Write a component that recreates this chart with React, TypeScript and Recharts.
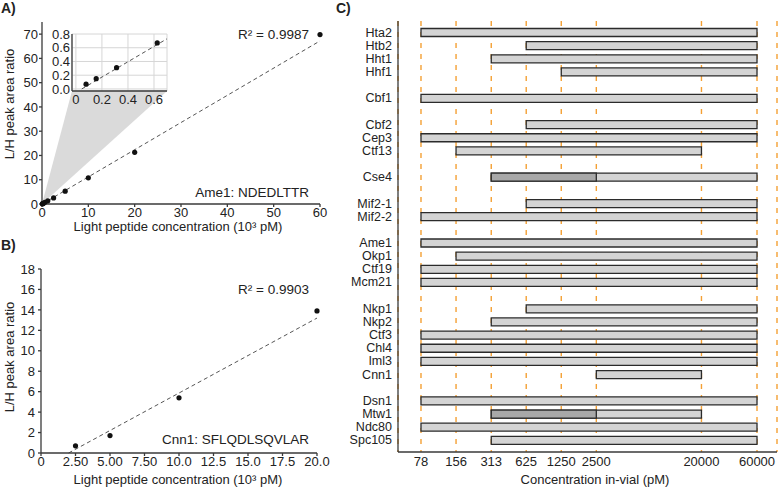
import React from "react";
import {
  ComposedChart,
  BarChart,
  Bar,
  Scatter,
  Line,
  XAxis,
  YAxis,
  CartesianGrid,
  ReferenceArea,
} from "recharts";

const FONT = '"Liberation Sans", Arial, Helvetica, sans-serif';
const INK = "#222";
const FRAME = "#3a3a3a";

// A) Ame1: NDEDLTTR calibration (10^3 pM vs L/H ratio)
const ameConc = [0.078, 0.156, 0.3125, 0.625, 1.25, 2.5, 5, 10, 20, 60];
const ameRatio = [0.07, 0.15, 0.31, 0.67, 1.3, 2.5, 5.3, 10.8, 21.3, 69.8];
const ameFitX = [0.045, 60];
const ameFitY = [0, 67.2];
const ameInsetFitX = [0.045, 0.7];
const ameInsetFitY = [0, 0.73];
const ameTicksX = [0, 10, 20, 30, 40, 50, 60];
const ameTicksY = [0, 10, 20, 30, 40, 50, 60, 70];
const insetTicksX = [0, 0.2, 0.4, 0.6];
const insetTicksY = [0, 0.2, 0.4, 0.6, 0.8];

// B) Cnn1: SFLQDLSQVLAR calibration
const cnnConc = [2.5, 5, 10, 20];
const cnnRatio = [0.7, 1.7, 5.4, 13.9];
const cnnFitX = [2.0, 20];
const cnnFitY = [0, 13.2];
const cnnTicksX = [0, 2.5, 5, 7.5, 10, 12.5, 15, 17.5, 20];
const cnnTicksY = [0, 2, 4, 6, 8, 10, 12, 14, 16, 18];

// C) linear range per peptide, concentration in-vial (pM)
const proteins = [
  "Hta2", "Htb2", "Hht1", "Hhf1", "",
  "Cbf1", "",
  "Cbf2", "Cep3", "Ctf13", "",
  "Cse4", "",
  "Mif2-1", "Mif2-2", "",
  "Ame1", "Okp1", "Ctf19", "Mcm21", "",
  "Nkp1", "Nkp2", "Ctf3", "Chl4", "Iml3", "Cnn1", "",
  "Dsn1", "Mtw1", "Ndc80", "Spc105",
];
const lowerLimit = [
  78, 625, 313, 1250, null,
  78, null,
  625, 78, 156, null,
  313, null,
  625, 78, null,
  78, 156, 78, 78, null,
  625, 313, 78, 78, 78, 2500, null,
  78, 313, 78, 313,
];
const upperLimit = [
  60000, 60000, 60000, 60000, null,
  60000, null,
  60000, 60000, 20000, null,
  60000, null,
  60000, 60000, null,
  60000, 60000, 60000, 60000, null,
  60000, 60000, 60000, 60000, 60000, 20000, null,
  60000, 20000, 60000, 60000,
];
const subLower: Record<string, number> = { Cse4: 313, Mtw1: 313 };
const subUpper: Record<string, number> = { Cse4: 2500, Mtw1: 2500 };
const concTicks = [78, 156, 313, 625, 1250, 2500, 20000, 60000];

const ameData = ameConc.map((x, i) => ({ x, y: ameRatio[i] }));
const ameInsetData = ameData.filter((d) => d.x < 0.7);
const ameFit = ameFitX.map((x, i) => ({ x, y: ameFitY[i] }));
const ameInsetFit = ameInsetFitX.map((x, i) => ({ x, y: ameInsetFitY[i] }));
const cnnData = cnnConc.map((x, i) => ({ x, y: cnnRatio[i] }));
const cnnFit = cnnFitX.map((x, i) => ({ x, y: cnnFitY[i] }));

const rows = proteins.map((name, i) => ({
  key: i,
  name,
  range: lowerLimit[i] != null ? [lowerLimit[i], upperLimit[i]] : null,
  sub: subLower[name] != null ? [subLower[name], subUpper[name]] : null,
}));

const tickStyle = { fontSize: 13, fill: INK, fontFamily: FONT };
const rowTickStyle = { fontSize: 12.5, fill: INK, fontFamily: FONT };
const frameLine = { stroke: FRAME, strokeWidth: 1.3 };

const dot = (p: any) => <circle cx={p.cx} cy={p.cy} r={2.6} fill="#111" />;

// grey fan linking the origin to the inset
const fanLeftX = 6.47;
const fanRightX = 27;
const fanTopY = 46.6;
const insetFan = (p: any) => {
  const { x, y, width, height } = p;
  const apex = x + width * (fanLeftX / fanRightX);
  return (
    <polygon
      points={`${x},${y + height} ${apex},${y} ${x + width},${y}`}
      fill="#dadada"
    />
  );
};

const txt = (style: React.CSSProperties, children: React.ReactNode) => (
  <div
    style={{
      position: "absolute",
      fontSize: 13,
      lineHeight: "16px",
      whiteSpace: "nowrap",
      color: INK,
      ...style,
    }}
  >
    {children}
  </div>
);

const vlabel = (cx: number, cy: number, text: string) =>
  txt(
    {
      left: cx - 100,
      top: cy - 8,
      width: 200,
      textAlign: "center",
      transform: "rotate(-90deg)",
    },
    text
  );

const fmtB = (v: number) => (v === 0 ? "0" : v < 10 ? v.toFixed(2) : v.toFixed(1));

export default function App() {
  return (
    <div
      style={{
        position: "absolute",
        left: 0,
        top: 0,
        width: 779,
        height: 488,
        background: "#fff",
        fontFamily: FONT,
        overflow: "hidden",
      }}
    >
      {/* A) main */}
      <div style={{ position: "absolute", left: 0, top: 0 }}>
        <ComposedChart width={340} height={232} margin={{ top: 22, right: 20, left: 0, bottom: 0 }}>
          <ReferenceArea x1={0} x2={fanRightX} y1={0} y2={fanTopY} shape={insetFan} />
          <XAxis
            type="number"
            dataKey="x"
            domain={[0, 60]}
            ticks={ameTicksX}
            interval={0}
            height={28}
            tickSize={3}
            tickMargin={1}
            tick={tickStyle}
            tickLine={frameLine}
            axisLine={frameLine}
          />
          <XAxis xAxisId="top" orientation="top" type="number" domain={[0, 1]} height={0} tick={false} tickLine={false} axisLine={frameLine} />
          <YAxis
            type="number"
            dataKey="y"
            domain={[0, 75]}
            ticks={ameTicksY}
            interval={0}
            width={42}
            tickSize={3}
            tickMargin={1}
            tick={tickStyle}
            tickLine={frameLine}
            axisLine={frameLine}
          />
          <YAxis yAxisId="right" orientation="right" type="number" domain={[0, 1]} width={0} tick={false} tickLine={false} axisLine={frameLine} />
          <Line data={ameFit} dataKey="y" type="linear" stroke="#555" strokeWidth={1} strokeDasharray="4 3" dot={false} activeDot={false} isAnimationActive={false} />
          <Scatter data={ameData} shape={dot} isAnimationActive={false} />
        </ComposedChart>
      </div>

      {/* A) inset */}
      <div style={{ position: "absolute", left: 46, top: 28 }}>
        <ComposedChart width={125} height={79} margin={{ top: 6, right: 4, left: 0, bottom: 0 }}>
          <CartesianGrid fill="#fff" fillOpacity={1} stroke="#d6d6d6" strokeWidth={1} />
          <XAxis
            type="number"
            dataKey="x"
            domain={[-0.03, 0.7]}
            ticks={insetTicksX}
            interval={0}
            tickFormatter={(v: number) => (v === 0 ? "0" : String(v))}
            height={16}
            tickSize={0}
            tickMargin={4}
            tick={tickStyle}
            axisLine={frameLine}
          />
          <XAxis xAxisId="top" orientation="top" type="number" domain={[0, 1]} height={0} tick={false} tickLine={false} axisLine={frameLine} />
          <YAxis
            type="number"
            dataKey="y"
            domain={[-0.03, 0.8]}
            ticks={insetTicksY}
            interval={0}
            tickFormatter={(v: number) => v.toFixed(1)}
            width={26}
            tickSize={0}
            tickMargin={2}
            tick={tickStyle}
            axisLine={frameLine}
          />
          <YAxis yAxisId="right" orientation="right" type="number" domain={[0, 1]} width={0} tick={false} tickLine={false} axisLine={frameLine} />
          <Line data={ameInsetFit} dataKey="y" type="linear" stroke="#555" strokeWidth={1} strokeDasharray="4 3" dot={false} activeDot={false} isAnimationActive={false} />
          <Scatter data={ameInsetData} shape={dot} isAnimationActive={false} />
        </ComposedChart>
      </div>

      {/* B) */}
      <div style={{ position: "absolute", left: 0, top: 240 }}>
        <ComposedChart width={340} height={230} margin={{ top: 29, right: 23, left: 0, bottom: 0 }}>
          <XAxis
            type="number"
            dataKey="x"
            domain={[0, 20]}
            ticks={cnnTicksX}
            interval={0}
            tickFormatter={fmtB}
            height={17}
            tickSize={3}
            tickMargin={1}
            tick={tickStyle}
            tickLine={frameLine}
            axisLine={frameLine}
          />
          <XAxis xAxisId="top" orientation="top" type="number" domain={[0, 1]} height={0} tick={false} tickLine={false} axisLine={frameLine} />
          <YAxis
            type="number"
            dataKey="y"
            domain={[0, 18]}
            ticks={cnnTicksY}
            interval={0}
            width={41}
            tickSize={3}
            tickMargin={3}
            tick={tickStyle}
            tickLine={frameLine}
            axisLine={frameLine}
          />
          <YAxis yAxisId="right" orientation="right" type="number" domain={[0, 1]} width={0} tick={false} tickLine={false} axisLine={frameLine} />
          <Line data={cnnFit} dataKey="y" type="linear" stroke="#555" strokeWidth={1} strokeDasharray="4 3" dot={false} activeDot={false} isAnimationActive={false} />
          <Scatter data={cnnData} shape={dot} isAnimationActive={false} />
        </ComposedChart>
      </div>

      {/* C) */}
      <div style={{ position: "absolute", left: 340, top: 0 }}>
        <BarChart
          layout="vertical"
          width={439}
          height={470}
          data={rows}
          margin={{ top: 21, right: 2, left: 0, bottom: 0 }}
        >
          <CartesianGrid
            yAxisId="main"
            horizontal={false}
            stroke="#f4a034"
            strokeWidth={1.4}
            strokeDasharray="5 6"
          />
          <XAxis
            type="number"
            scale="log"
            domain={[49.5, 89100]}
            allowDataOverflow
            ticks={concTicks}
            tickFormatter={(v: number) => String(v)}
            interval={0}
            height={18}
            tickSize={0}
            tickMargin={5}
            tick={tickStyle}
            axisLine={frameLine}
          />
          <XAxis xAxisId="top" orientation="top" type="number" domain={[0, 1]} height={0} tick={false} tickLine={false} axisLine={frameLine} />
          <YAxis
            yAxisId="main"
            type="category"
            dataKey="key"
            width={58}
            interval={0}
            padding={{ top: 4.5, bottom: 5.5 }}
            tickFormatter={(k: number) => proteins[k]}
            tickSize={0}
            tickMargin={6}
            tick={rowTickStyle}
            axisLine={frameLine}
          />
          <YAxis
            yAxisId="dark"
            orientation="right"
            type="category"
            dataKey="key"
            width={0}
            padding={{ top: 4.5, bottom: 5.5 }}
            tick={false}
            tickLine={false}
            axisLine={frameLine}
          />
          <Bar yAxisId="main" dataKey="range" barSize={8} fill="#d4d4d4" stroke="#2b2b2b" strokeWidth={1.3} isAnimationActive={false} />
          <Bar yAxisId="dark" dataKey="sub" barSize={8} fill="#a8a8a8" stroke="#2b2b2b" strokeWidth={1.3} isAnimationActive={false} />
        </BarChart>
      </div>

      {/* panel letters and annotations */}
      {txt({ left: 1, top: 0, fontSize: 14, fontWeight: "bold" }, "A)")}
      {txt({ left: 1, top: 237, fontSize: 14, fontWeight: "bold" }, "B)")}
      {txt({ left: 336, top: 0, fontSize: 14, fontWeight: "bold" }, "C)")}

      {txt({ left: 150, top: 27, width: 159, textAlign: "right", fontSize: 13.5 }, "R² = 0.9987")}
      {txt({ left: 150, top: 185, width: 159, textAlign: "right", fontSize: 13.5 }, "Ame1: NDEDLTTR")}
      {txt({ left: 150, top: 282, width: 159, textAlign: "right", fontSize: 13.5 }, "R² = 0.9903")}
      {txt({ left: 150, top: 432, width: 159, textAlign: "right", fontSize: 13.5 }, "Cnn1: SFLQDLSQVLAR")}

      {txt({ left: 28, top: 219, width: 300, textAlign: "center" }, "Light peptide concentration (10³ pM)")}
      {txt({ left: 28, top: 472, width: 300, textAlign: "center" }, "Light peptide concentration (10³ pM)")}
      {txt({ left: 445, top: 472, width: 300, textAlign: "center" }, "Concentration in-vial (pM)")}

      {vlabel(10, 104, "L/H peak area ratio")}
      {vlabel(10, 357, "L/H peak area ratio")}
    </div>
  );
}
